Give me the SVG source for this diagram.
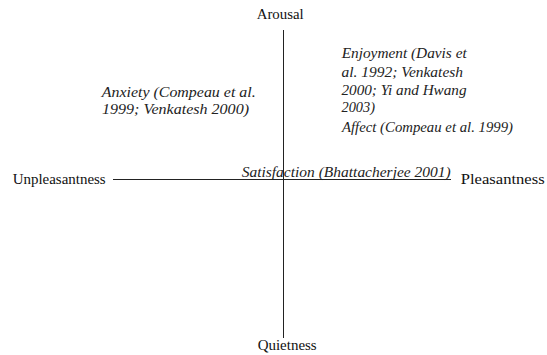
<svg xmlns="http://www.w3.org/2000/svg" width="547" height="355" viewBox="0 0 547 355">
  <style>
    text { font-family: 'Liberation Serif', 'Times New Roman', serif; }
    .axis { font-size: 15px; fill: #111; }
    .cite { font-size: 15px; font-style: italic; fill: #222; }
    .line { stroke: #222; stroke-width: 1; fill: none; }
  </style>
  <rect width="547" height="355" fill="#fff"/>
  <g id="connectors">
    <line class="line" x1="113" y1="179.5" x2="451" y2="179.5" stroke="#444"/>
    <line class="line" x1="283.5" y1="30" x2="283.5" y2="338"/>
  </g>
  <g id="arousal">
    <text class="axis" x="256.7" y="18.5" textLength="47" lengthAdjust="spacingAndGlyphs">Arousal</text>
  </g>
  <g id="quietness">
    <text class="axis" x="257.7" y="350" textLength="59" lengthAdjust="spacingAndGlyphs">Quietness</text>
  </g>
  <g id="unpleasantness">
    <text class="axis" x="12.7" y="184" textLength="93" lengthAdjust="spacingAndGlyphs">Unpleasantness</text>
  </g>
  <g id="pleasantness">
    <text class="axis" x="460.7" y="184" textLength="84" lengthAdjust="spacingAndGlyphs">Pleasantness</text>
  </g>
  <g id="anxiety">
    <text class="cite" x="101.7" y="96.5" textLength="154" lengthAdjust="spacingAndGlyphs">Anxiety (Compeau et al.</text>
    <text class="cite" x="102" y="113.5" textLength="147" lengthAdjust="spacingAndGlyphs">1999; Venkatesh 2000)</text>
  </g>
  <g id="enjoyment">
    <text class="cite" x="341.7" y="57.5" textLength="125" lengthAdjust="spacingAndGlyphs">Enjoyment (Davis et</text>
    <text class="cite" x="341.5" y="76.5" textLength="121.5" lengthAdjust="spacingAndGlyphs">al. 1992; Venkatesh</text>
    <text class="cite" x="341.5" y="94.5" textLength="125" lengthAdjust="spacingAndGlyphs">2000; Yi and Hwang</text>
    <text class="cite" x="341.5" y="111.5" textLength="33.5" lengthAdjust="spacingAndGlyphs">2003)</text>
  </g>
  <g id="affect">
    <text class="cite" x="342" y="131.5" textLength="171" lengthAdjust="spacingAndGlyphs">Affect (Compeau et al. 1999)</text>
  </g>
  <g id="satisfaction">
    <text class="cite" x="241.7" y="176.5" textLength="209" lengthAdjust="spacingAndGlyphs">Satisfaction (Bhattacherjee 2001)</text>
  </g>
</svg>
